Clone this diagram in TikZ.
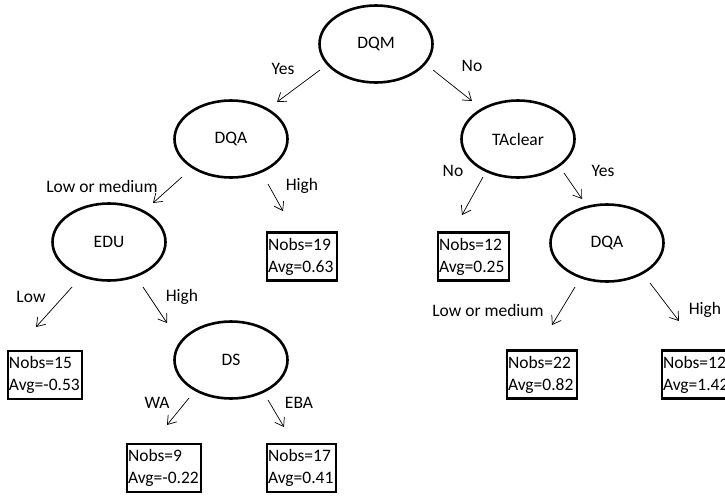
\documentclass[tikz,border=0pt]{standalone}
\usepackage{fontspec}
\setmainfont{Carlito}
\usepackage{tikz}
\usetikzlibrary{arrows.meta,shapes.geometric,positioning,calc}

\begin{document}
\begin{tikzpicture}[x=1pt,y=-1pt,font=\fontsize{17.5}{22}\selectfont,
	split/.style={ellipse,draw=black,line width=2.6pt,minimum width=113pt,minimum height=77pt,inner sep=0pt},
	leaf/.style={rectangle,draw=black,line width=2.2pt,inner xsep=1pt,inner ysep=0pt,minimum height=48pt,align=left,text width=#1},
	leaf/.default=68pt,
	edge/.style={-{Straight Barb[length=8pt,width=11pt]},line width=0.7pt},
	lab/.style={inner sep=0pt}]
	\useasboundingbox (0,0) rectangle (725,496);
	% splits
	\path   (376,44)  node (dqm)  [split] {DQM}
	        (231,139) node (dqa)  [split] {DQA}
	        (518,139) node (tac)  [split] {TAclear}
	        (109,242) node (edu)  [split] {EDU}
	        (607,243) node (dqb)  [split] {DQA}
	        (231,360) node (ds)   [split] {DS};
	% leaves
	\path   (45,375)    node (l15)  [leaf=72pt] {Nobs=15\\Avg=-0.53}
	        (302,256.5) node (l19)  [leaf] {Nobs=19\\Avg=0.63}
	        (473.5,256.5) node (l12a) [leaf=69pt] {Nobs=12\\Avg=0.25}
	        (542,374.5) node (l22)  [leaf] {Nobs=22\\Avg=0.82}
	        (697,374.5) node (l12b) [leaf] {Nobs=12\\Avg=1.42}
	        (164,468)   node (l9)   [leaf=72pt] {Nobs=9\\Avg=-0.22}
	        (301.5,468) node (l17)  [leaf=67pt] {Nobs=17\\Avg=0.41};
	% arrow ends
	\path   (320,70) coordinate (yesA)  (277,102) coordinate (yesB)
	        (433,70) coordinate (noA)   (472,101) coordinate (noB)
	        (182,177) coordinate (lmA)  (153,203) coordinate (lmB)
	        (268,184) coordinate (hiA)  (283,211) coordinate (hiB)
	        (483,177) coordinate (tnA)  (462,215) coordinate (tnB)
	        (564,173) coordinate (tyA)  (582,199) coordinate (tyB)
	        (72,287)  coordinate (loA)  (36,327)  coordinate (loB)
	        (143,287) coordinate (ehA)  (167,323) coordinate (ehB)
	        (575,287) coordinate (rlA)  (552,325) coordinate (rlB)
	        (650,283) coordinate (rhA)  (679,321) coordinate (rhB)
	        (189,398) coordinate (waA)  (167,425) coordinate (waB)
	        (268,400) coordinate (ebA)  (284,427) coordinate (ebB);
	\foreach \s in {yes,no,lm,hi,tn,ty,lo,eh,rl,rh,wa,eb}
		\draw [edge] (\s A) -- (\s B);
	% edge labels
	\node [lab] at (283,69)  {Yes};
	\node [lab] at (472,66)  {No};
	\node [lab] at (102,186) {Low or medium};
	\node [lab] at (302,186) {High};
	\node [lab] at (453,171) {No};
	\node [lab] at (603,171) {Yes};
	\node [lab] at (31,297)  {Low};
	\node [lab] at (182,297) {High};
	\node [lab] at (488,310) {Low or medium};
	\node [lab] at (705,310) {High};
	\node [lab] at (157,403) {WA};
	\node [lab] at (299,403) {EBA};
\end{tikzpicture}
\end{document}
